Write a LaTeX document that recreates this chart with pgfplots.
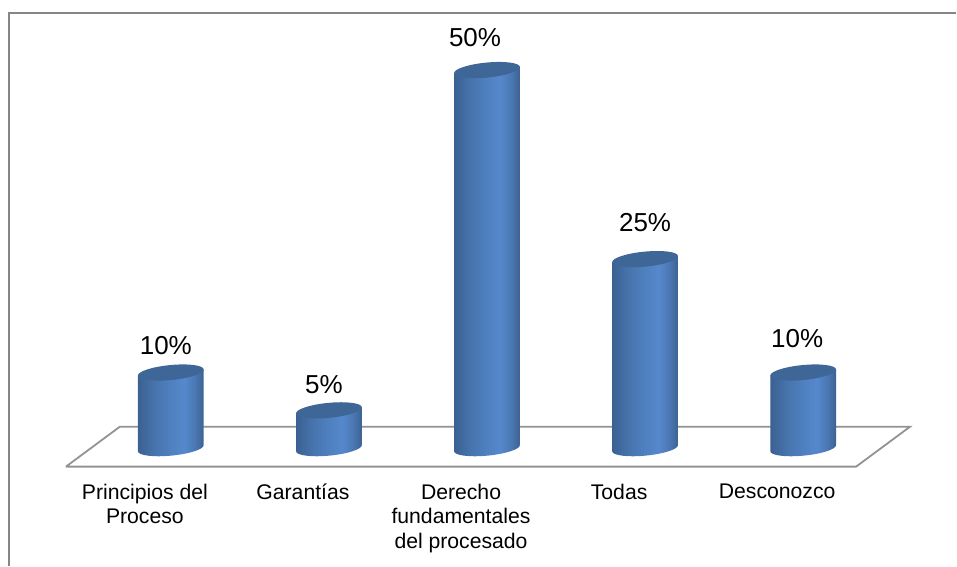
\documentclass[border=0pt]{standalone}
\usepackage{pgfplots}
\usepackage{fontspec}
\setmainfont{Liberation Sans}
\pgfplotsset{compat=1.18}

% Side shading of a cylinder body
\definecolor{cyledgeL}{HTML}{3A6090}
\definecolor{cylmidL}{HTML}{4673AC}
\definecolor{cylmid}{HTML}{4F80C0}
\definecolor{cylbright}{HTML}{5588CC}
\definecolor{cylmidR}{HTML}{4B78B4}
\definecolor{cyledgeR}{HTML}{3B6190}
\definecolor{cyltop}{HTML}{3E6696}
\definecolor{framegray}{HTML}{868686}
\definecolor{floorgray}{HTML}{929292}
\pgfdeclarehorizontalshading{cylshade}{100bp}{%
  color(0bp)=(cyledgeL); color(25bp)=(cyledgeL); color(37bp)=(cylmidL);
  color(50bp)=(cylmid); color(60bp)=(cylbright); color(68bp)=(cylmidR);
  color(75bp)=(cyledgeR); color(100bp)=(cyledgeR)}

% One pixel of the drawing is 0.75pt; y scale is 7.57 px per percent.
% The mark sits at the top centre of a cylinder and reaches down to zero.
\pgfdeclareplotmark{cylinder}{%
  \pgfmathsetlengthmacro\cylh{\cylval*7.57*0.75pt}%
  \pgfscope
    \pgfpathmoveto{\pgfpoint{-24.7pt}{-2.29pt}}%
    \pgfpathlineto{\pgfpoint{-24.7pt}{-2.29pt-\cylh}}%
    \pgfpathlineto{\pgfpoint{24.7pt}{2.29pt-\cylh}}%
    \pgfpathlineto{\pgfpoint{24.7pt}{2.29pt}}%
    \pgfpathclose
    \pgfpathellipse{\pgfpoint{0pt}{-\cylh}}%
      {\pgfpoint{24.7pt}{2.38pt}}{\pgfpoint{-0.54pt}{5.6pt}}%
    \pgfshadepath{cylshade}{0}%
    \pgfusepath{discard}%
  \endpgfscope
  \pgfscope
    \pgfsetfillcolor{cyltop}%
    \pgfpathellipse{\pgfpointorigin}%
      {\pgfpoint{24.7pt}{2.38pt}}{\pgfpoint{-0.54pt}{5.6pt}}%
    \pgfusepath{fill}%
  \endpgfscope
}

\begin{document}
\begin{tikzpicture}
\begin{axis}[
  scale only axis,
  width=717.75pt, height=424.5pt,
  xmin=-1.0806, xmax=4.9668,
  ymin=-15.522, ymax=59.247,
  clip=false,
  axis line style={draw=none},
  major tick length=0pt,
  ytick=\empty,
  xtick={0,1,2,3,4},
  xticklabels={{Principios del\\Proceso},{Garantías},{Derecho\\fundamentales\\del procesado},{Todas},{Desconozco}},
  x tick label style={
    align=center, font=\fontsize{15.9pt}{18.75pt}\selectfont,
    anchor=north, xshift=-19.5pt, yshift=65pt},
  /pgf/number format/assume math mode=true,
]
% Chart frame, top and left sides
\addplot[framegray, line width=1.5pt, forget plot]
  coordinates {(-1.0237,-15.522) (-1.0237,57.53) (4.9668,57.53)};
% Floor of the plot area
\addplot[floorgray, line width=1.35pt, line join=miter, forget plot]
  coordinates {(-0.6635,-2.444) (-0.3223,2.840) (4.6761,2.840) (4.3349,-2.444) (-0.6635,-2.444)};
% Cylinders with their value labels
\addplot[
  scatter, only marks, mark=cylinder,
  point meta=y,
  visualization depends on={\thisrow{v} \as \cylval},
  visualization depends on={\thisrow{dx} \as \lblx},
  visualization depends on={\thisrow{dy} \as \lbly},
  nodes near coords={\pgfmathprintnumber{\pgfplotspointmeta}\%},
  every node near coord/.append style={
    anchor=center, text=black, font=\fontsize{19.5pt}{22pt}\selectfont,
    xshift=\lblx*0.75pt, yshift=\lbly*0.75pt},
] table[x=pos, y=v] {
pos v  dx  dy
0   10 -5  27
1   5  -5  26
2   50 -12 33
3   25 0   37
4   10 -6  34
};
\end{axis}
\useasboundingbox (0,0) rectangle (717.75pt,424.5pt);
\end{tikzpicture}
\end{document}
